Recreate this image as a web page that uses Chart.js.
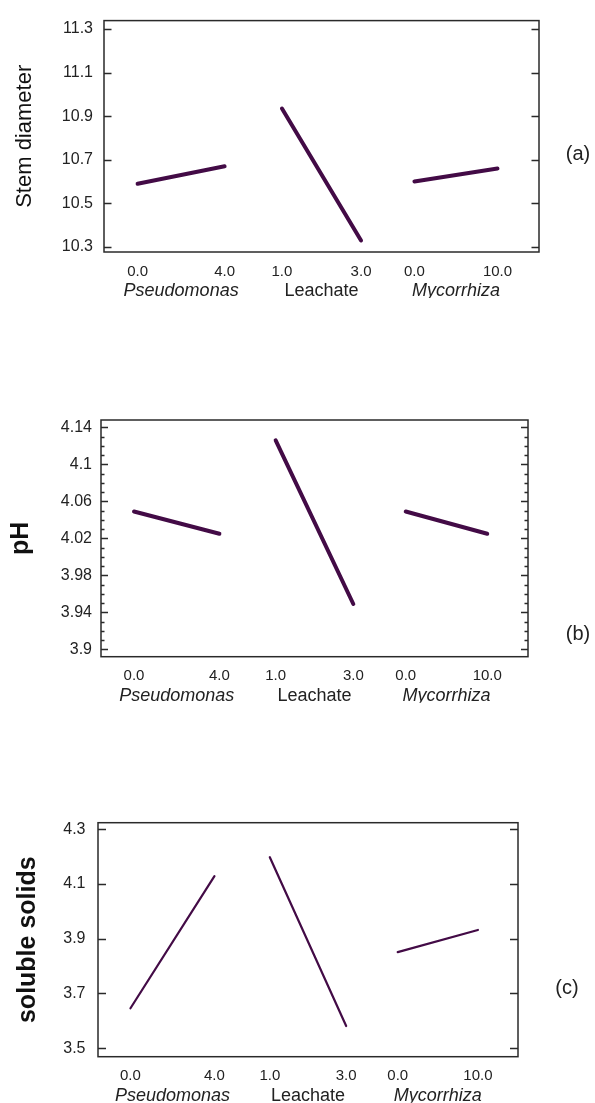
<!DOCTYPE html>
<html>
<head>
<meta charset="utf-8">
<script src="https://cdn.jsdelivr.net/npm/chart.js@4.4.1/dist/chart.umd.min.js"></script>
<style>
  html, body { margin: 0; padding: 0; background: #fff; width: 595px; height: 1103px; overflow: hidden; position: relative; font-family: "Liberation Sans", Arial, sans-serif; }
  .panel { position: absolute; left: 0; width: 595px; }
  .tag { position: absolute; font-size: 20px; color: #222; transform: translate(-50%, -50%); white-space: nowrap; line-height: 1; }
</style>
</head>
<body>
<div class="panel" style="top:0;height:320px"><canvas id="ca"></canvas></div>
<div class="panel" style="top:400px;height:320px"><canvas id="cb"></canvas></div>
<div class="panel" style="top:800px;height:303px"><canvas id="cc"></canvas></div>
<div class="tag" style="left:578px;top:153px">(a)</div>
<div class="tag" style="left:578px;top:633px">(b)</div>
<div class="tag" style="left:567px;top:987px">(c)</div>
<script>
// ---------- data ----------
const factors = ['Pseudomonas', 'Leachate', 'Mycorrhiza'];
const factorItalic = [true, false, true];
const levelLabels = ['0.0', '4.0', '1.0', '3.0', '0.0', '10.0'];

// response at [low level, high level] for each factor
const stemDiameter  = [[10.59, 10.67], [10.935, 10.33], [10.60, 10.66]];
const pHValues      = [[4.049, 4.025], [4.126, 3.949], [4.049, 4.025]];
const solubleSolids = [[3.646, 4.129], [4.198, 3.581], [3.851, 3.932]];

const stemTicks = [10.3, 10.5, 10.7, 10.9, 11.1, 11.3];
const stemTickLabels = ['10.3', '10.5', '10.7', '10.9', '11.1', '11.3'];
const pHTicks = [3.9, 3.94, 3.98, 4.02, 4.06, 4.1, 4.14];
const pHTickLabels = ['3.9', '3.94', '3.98', '4.02', '4.06', '4.1', '4.14'];
const pHMinorTicks = [3.91, 3.92, 3.93, 3.95, 3.96, 3.97, 3.99, 4.00, 4.01, 4.03, 4.04, 4.05, 4.07, 4.08, 4.09, 4.11, 4.12, 4.13];
const solidsTicks = [3.5, 3.7, 3.9, 4.1, 4.3];
const solidsTickLabels = ['3.5', '3.7', '3.9', '4.1', '4.3'];

// ---------- layout (x axis positions of factor levels) ----------
const X_MAX = 11;
const levelPos = [0.85, 3.05, 4.5, 6.5, 7.85, 9.95];
const factorCenter = [0, 1, 2].map(i => (levelPos[2 * i] + levelPos[2 * i + 1]) / 2);
const FONT = '"Liberation Sans", Arial, sans-serif';
const LINE_COLOR = '#430b46';

const framePlugin = {
  id: 'frame',
  afterDraw(chart, args, opts) {
    const { ctx, chartArea: a } = chart;
    const y = chart.scales.y;
    ctx.save();
    ctx.strokeStyle = '#2a2a2a';
    ctx.lineWidth = 1.5;
    ctx.strokeRect(a.left, a.top, a.right - a.left, a.bottom - a.top);
    const draw = (vals, len) => vals.forEach(v => {
      const py = Math.round(y.getPixelForValue(v)) + 0.5;
      ctx.beginPath();
      ctx.moveTo(a.left, py); ctx.lineTo(a.left + len, py);
      ctx.moveTo(a.right, py); ctx.lineTo(a.right - len, py);
      ctx.stroke();
    });
    ctx.lineWidth = 1.3;
    draw(opts.major || [], opts.majorLen || 7);
    draw(opts.minor || [], opts.minorLen || 3.5);
    ctx.restore();
  }
};

function makePanel(id, cfg) {
  const datasets = cfg.values.map((pair, i) => ({
    label: factors[i],
    data: [{ x: levelPos[2 * i], y: pair[0] }, { x: levelPos[2 * i + 1], y: pair[1] }],
    borderColor: LINE_COLOR,
    borderWidth: cfg.lineWidth,
    borderCapStyle: 'round',
    pointRadius: 0,
    fill: false,
    tension: 0
  }));
  const titleLH = cfg.titleSize * 1.2;
  new Chart(document.getElementById(id), {
    type: 'line',
    data: { datasets },
    options: {
      responsive: true,
      maintainAspectRatio: false,
      animation: false,
      layout: {
        padding: {
          left: 0,
          top: cfg.area.top,
          right: 595 - cfg.area.right,
          bottom: cfg.height - cfg.area.bottom - 46
        }
      },
      plugins: {
        legend: { display: false },
        tooltip: { enabled: false },
        frame: { major: cfg.ticks, minor: cfg.minor, majorLen: cfg.tickLen, minorLen: 3.5 }
      },
      scales: {
        x: {
          type: 'linear', min: 0, max: X_MAX, position: 'bottom', weight: 0,
          grid: { display: false, drawTicks: false, tickLength: 0 },
          border: { display: false },
          afterBuildTicks: s => { s.ticks = levelPos.map(v => ({ value: v })); },
          ticks: {
            autoSkip: false, maxRotation: 0, minRotation: 0, padding: 10.5,
            color: '#222', font: { family: FONT, size: 15 },
            callback: (v, i) => levelLabels[i]
          },
          afterFit: s => { s.height = 26; }
        },
        x2: {
          type: 'linear', min: 0, max: X_MAX, position: 'bottom', weight: 1,
          grid: { display: false, drawTicks: false, tickLength: 0 },
          border: { display: false },
          afterBuildTicks: s => { s.ticks = factorCenter.map(v => ({ value: v })); },
          ticks: {
            autoSkip: false, maxRotation: 0, minRotation: 0, padding: 2.2,
            color: '#222',
            font: ctx => ({ family: FONT, size: 18, style: factorItalic[ctx.index] ? 'italic' : 'normal' }),
            callback: (v, i) => factors[i]
          },
          afterFit: s => { s.height = 20; }
        },
        y: {
          type: 'linear', min: cfg.yMin, max: cfg.yMax, position: 'left',
          grid: { display: false, drawTicks: false, tickLength: 0 },
          border: { display: false },
          afterBuildTicks: s => { s.ticks = cfg.ticks.map(v => ({ value: v })); },
          ticks: {
            autoSkip: false, padding: cfg.tickPad,
            color: '#222', font: { family: FONT, size: 16 },
            callback: (v, i) => cfg.tickLabels[i]
          },
          title: {
            display: true, text: cfg.title, color: '#111',
            font: { family: FONT, size: cfg.titleSize, weight: cfg.titleWeight },
            padding: { top: cfg.titleX - titleLH / 2, bottom: 0 }
          },
          afterFit: s => { s.width = cfg.area.left; }
        }
      }
    },
    plugins: [framePlugin]
  });
}

makePanel('ca', {
  values: stemDiameter, height: 320,
  area: { left: 104, right: 539, top: 12, bottom: 252 },
  yMin: 10.277, yMax: 11.338, ticks: stemTicks, tickLabels: stemTickLabels, minor: [],
  tickPad: 11, tickLen: 7.5, lineWidth: 4,
  title: 'Stem diameter', titleSize: 22, titleWeight: 'normal', titleX: 25
});
makePanel('cb', {
  values: pHValues, height: 320,
  area: { left: 101, right: 528, top: 20, bottom: 256.7 },
  yMin: 3.892, yMax: 4.148, ticks: pHTicks, tickLabels: pHTickLabels, minor: pHMinorTicks,
  tickPad: 9, tickLen: 7, lineWidth: 4,
  title: 'pH', titleSize: 25, titleWeight: 'bold', titleX: 21
});
makePanel('cc', {
  values: solubleSolids, height: 303,
  area: { left: 98, right: 518, top: 22.7, bottom: 256.7 },
  yMin: 3.469, yMax: 4.324, ticks: solidsTicks, tickLabels: solidsTickLabels, minor: [],
  tickPad: 12.5, tickLen: 8, lineWidth: 2.2,
  title: 'soluble solids', titleSize: 25, titleWeight: 'bold', titleX: 28.5
});
</script>
</body>
</html>
